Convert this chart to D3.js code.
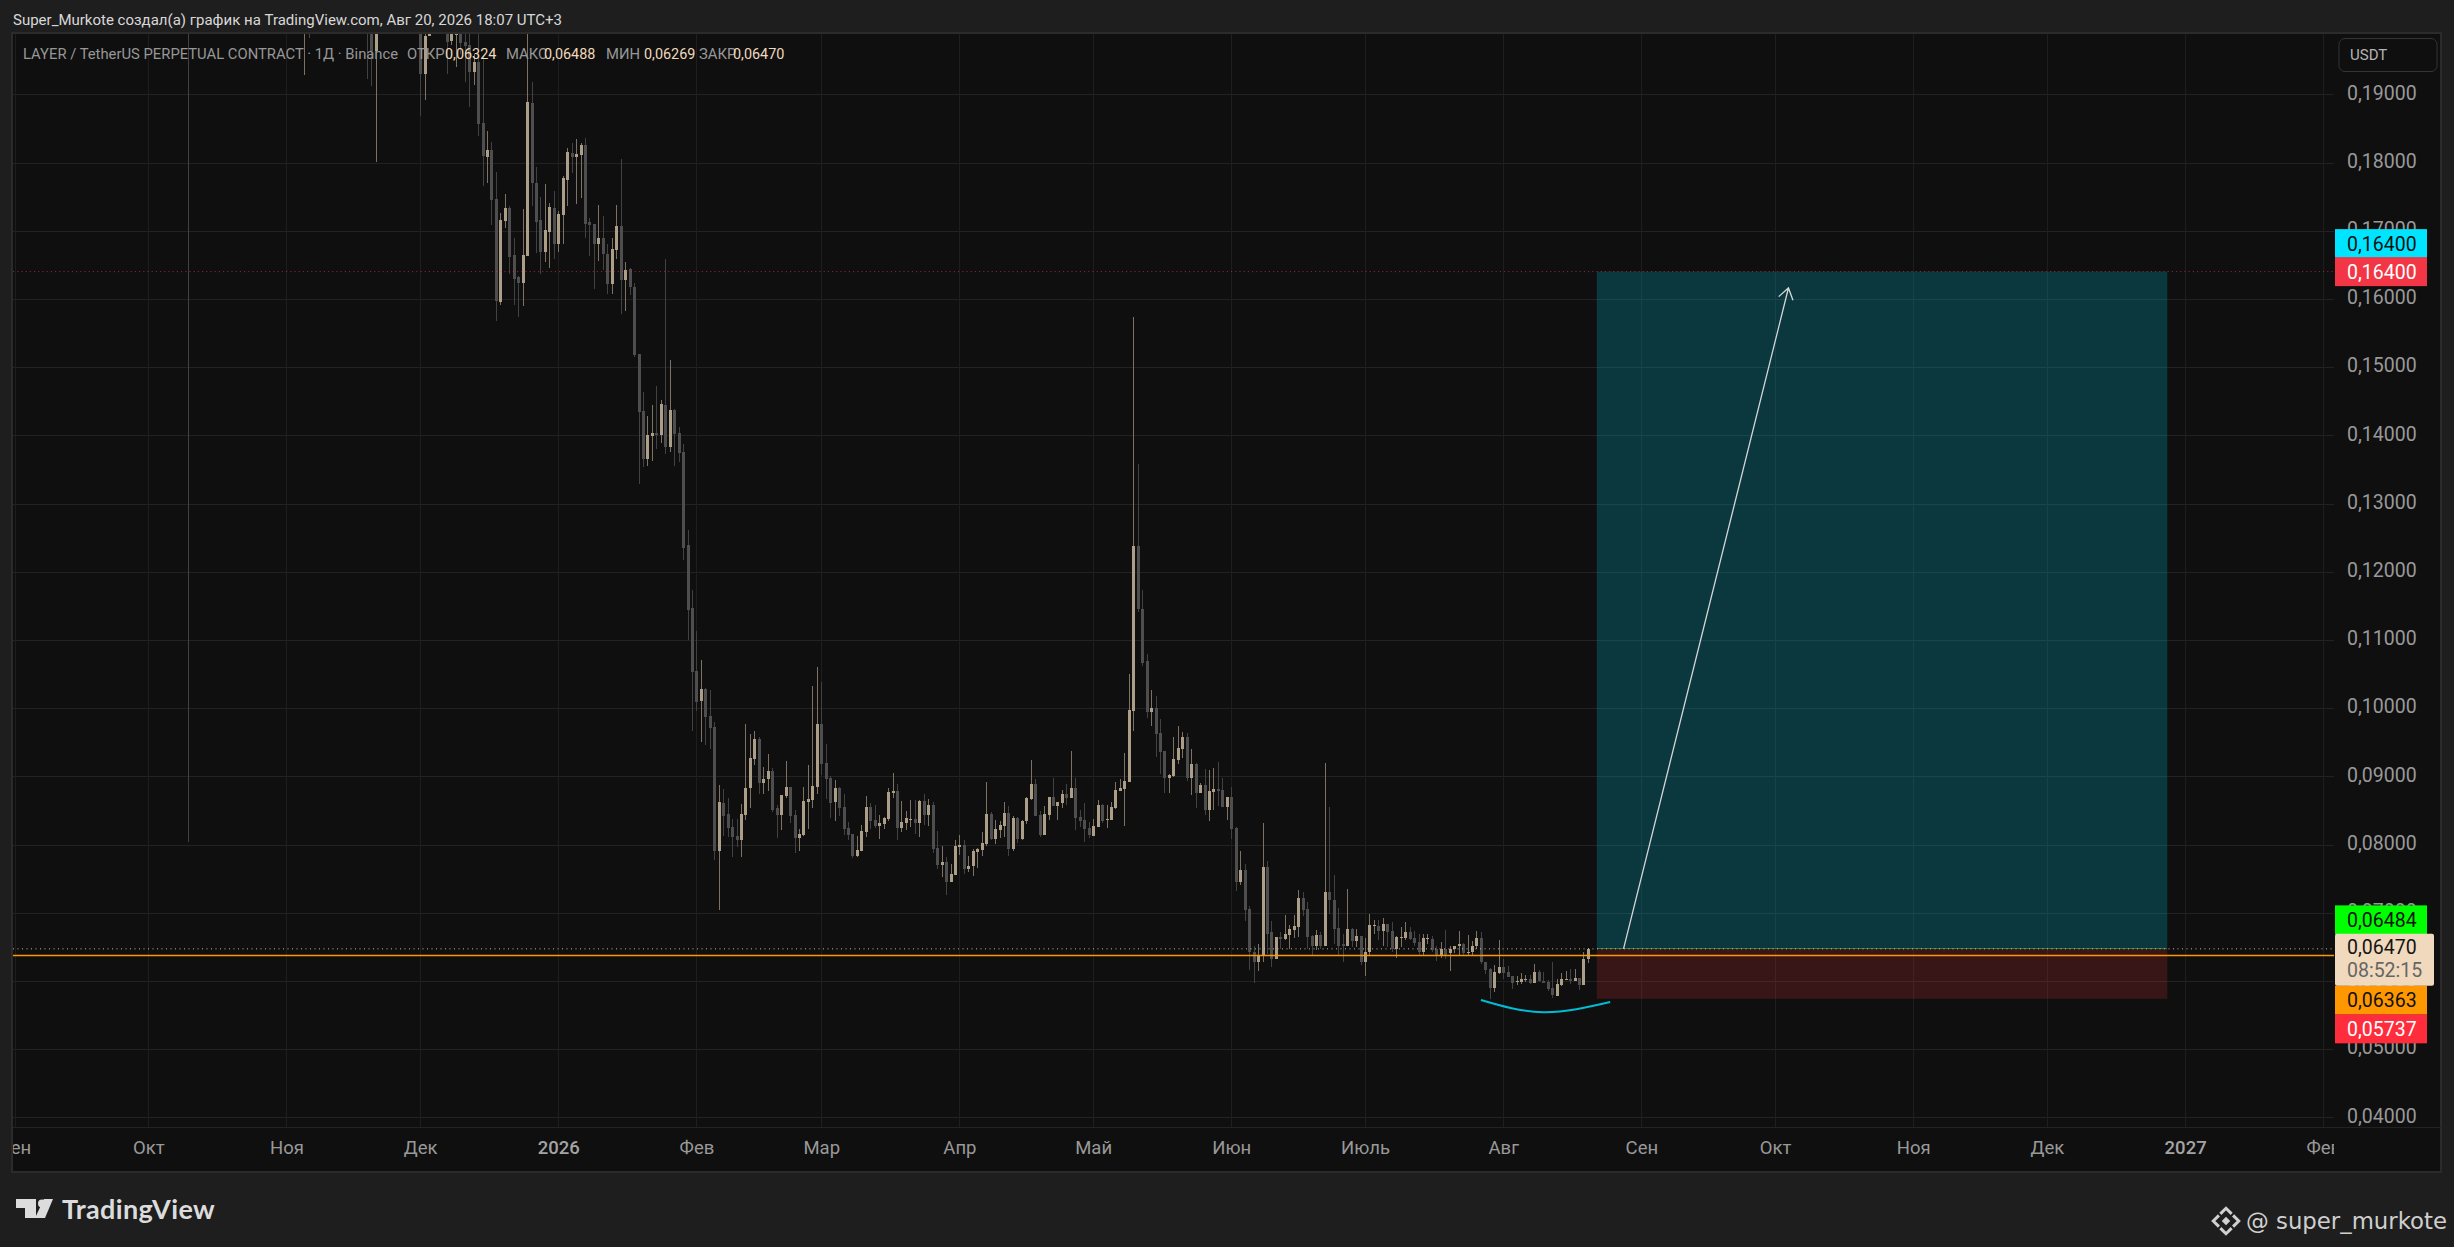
<!DOCTYPE html>
<html>
<head>
<meta charset="utf-8">
<script src="https://cdn.jsdelivr.net/npm/d3@7"></script>
<style>
  html, body { margin: 0; padding: 0; background: #1e1e1e; overflow: hidden; }
  text { font-family: Roboto, "Noto Sans", sans-serif; }
</style>
</head>
<body>
<div id="chart"></div>
<script>
// daily candles, LAYER / USDT perp
// (everything before december is above the visible range, only the wicks show)
var firstDay = "2025-10-10";

var opens = [
  .48,.33,.35,.39,.40,.37,.35,.33,.31,.32,.33,.34,.32,.30,.32,.31,.32,.34,.32,.30,.29,.27,
  .28,.285,.27,.235,.225,.25,.235,.26,.27,.28,.29,.265,.255,.245,.23,.24,.23,.22,.21,.205,.1963,.21,.22,.225,.235,.23,.235,.24,.23,.225,
  .21,.19298,.19856,.205,.212,.208,.2045,.19788,.19871,.201,.19768,.19724,.19327,.19474,.18577,.18078,.18181,.1746,.15961,.17137,.17328,.16637,.16314,.1624,.16622,.18871,.17695,.1715,.16695,.16974,.17327,
  .16798,.17224,.17738,.18135,.18076,.18106,.18253,.17121,.17092,.16798,.169,.16665,.16224,.16724,.17062,.16283,.16445,.1618,.15195,.14357,.13652,.1399,.14034,.14005,.14446,.13828,.14372,.14034,.13755,.1239,.11466,
  .10548,.10107,.10283,.09887,.09725,.07902,.08608,.08446,.08255,.08122,.08064,.08431,.08828,.09254,.09548,.08902,.0896,.09078,.08534,.08431,.0871,.08843,.08431,.08093,.08137,.08622,.08652,.08843,
  .09769,.09196,.08975,.08622,.08828,.08549,.0824,.08152,.07829,.07902,.08181,.08549,.08358,.0827,.08299,.08372,.08755,.08784,.0824,.08314,.08358,.08372,.08314,.08637,.08431,.08578,.07946,.07696,.0774,.07446,.07549,
  .07961,.0799,.07637,.07681,.07887,.07917,.08005,.08446,.08078,.08211,.0827,.08461,.07931,.08387,.08078,.08343,.08666,.08887,.08431,.08137,.08431,.08696,.08564,.08608,.0874,.08681,.08828,.08402,.08358,.0824,
  .08122,.08255,.08578,.08358,.08358,.08534,.08784,.08813,.08916,.0996,.12372,.1146,.10695,.09945,.10004,.09637,.09372,.08975,.09005,.0924,.09401,.09578,.08975,.09181,.08754,.08871,.08504,.08769,.08813,.08798,.08548,
  .08695,.08239,.07446,.07622,.07049,.06431,.06284,.06387,.07666,.06711,.06314,.06637,.06608,.06666,.0674,.06784,.0721,.07049,.06652,.06519,.06666,.06519,.07299,.07181,.06769,.06534,.06519,.06755,.06578,.06652,
  .0627,.06417,.06799,.06799,.06725,.06828,.06725,.06461,.06622,.06622,.06711,.06622,.06564,.06417,.06608,.06608,.0647,.06372,.06475,.06402,.06461,.06519,.06534,.06402,.06417,.06505,.06622,.06284,.06181,.05902,.06123,
  .06211,.06137,.06078,.0599,.0599,.0602,.06034,.05976,.06137,.06005,.0599,.05902,.05784,.05946,.0602,.06034,.06005,.06049,.05946,.06324
];
var highs = [
  .49,.37,.40,.42,.41,.39,.36,.34,.33,.34,.35,.36,.33,.33,.33,.33,.35,.35,.33,.31,.30,.29,
  .29,.29,.275,.25,.26,.26,.27,.28,.29,.30,.30,.28,.27,.25,.245,.25,.24,.23,.22,.215,.215,.225,.23,.24,.24,.24,.245,.245,.235,.23,
  .215,.2035,.209,.216,.218,.212,.208,.207,.205,.204,.2,.199,.19592,.2,.19562,.1846,.18298,.17857,.17254,.17534,.17357,.16887,.16343,.17313,.205,.1918,.17931,.17488,.1768,.174,.17577,
  .17283,.17797,.18209,.18282,.18341,.18282,.18356,.1718,.17092,.17371,.17209,.16798,.16886,.17371,.18047,.16548,.16459,.16239,.15195,.14637,.14284,.14446,.14725,.14519,.16592,.15107,.14387,.14122,.13872,.1261,.1173,
  .11136,.1071,.10298,.10269,.09798,.08872,.08813,.08681,.08372,.08372,.08593,.09769,.09622,.09666,.09578,.09137,.09328,.09122,.08578,.08725,.09225,.08843,.08505,.08225,.08843,.09166,.10328,.10607,
  .10386,.09475,.09005,.08946,.08843,.0874,.08328,.08152,.08122,.08284,.0871,.08608,.08578,.08431,.08402,.08828,.09049,.08887,.08637,.0849,.08652,.08652,.08652,.0874,.08666,.08622,.08196,.07976,.07814,.07711,.08064,
  .08137,.08064,.07829,.07931,.07946,.08181,.08916,.08475,.08358,.08343,.08622,.08564,.08417,.08402,.08358,.08696,.0924,.0896,.0849,.08564,.08696,.08975,.08622,.08799,.08887,.09372,.08975,.08505,.08608,.08328,
  .08372,.08652,.08593,.08578,.08622,.08916,.0896,.09343,.10504,.15738,.13577,.11725,.10798,.10269,.10181,.09842,.09372,.09034,.09578,.0974,.09651,.09637,.09401,.09196,.08896,.09107,.09092,.09121,.0921,.08974,.08695,
  .08842,.08254,.07901,.0771,.07093,.06519,.06534,.08313,.07754,.06872,.06647,.06711,.0696,.06813,.0696,.07338,.07299,.07152,.06666,.0674,.06711,.09195,.08548,.07548,.07063,.06681,.07343,.06769,.06755,.06652,
  .06622,.06975,.06887,.06887,.06916,.06838,.06857,.06652,.06784,.06857,.06784,.06725,.06681,.06691,.06681,.06652,.06519,.06564,.0674,.06505,.06519,.06725,.06554,.06666,.06588,.06725,.06711,.06284,.06191,.0624,.06593,
  .06328,.06225,.06078,.06078,.06123,.06093,.06088,.06255,.06167,.06137,.06015,.0627,.06034,.06123,.06152,.06181,.06181,.06049,.06431,.06488
];
var lows = [
  .0804,.31,.34,.37,.35,.34,.32,.29,.30,.31,.32,.31,.29,.29,.30,.30,.31,.31,.29,.28,.26,.26,
  .27,.26,.22,.205,.1929,.1982,.23,.25,.26,.27,.26,.25,.24,.225,.225,.225,.215,.205,.1923,.1912,.1801,.205,.21,.22,.225,.22,.23,.225,.22,.205,
  .18685,.1892,.19856,.2035,.205,.201,.19298,.19724,.194,.19592,.1918,.18813,.19136,.18386,.17651,.17695,.17078,.15682,.15917,.17034,.16358,.15917,.1574,.15902,.16622,.17357,.16666,.16371,.16548,.16459,.16592,
  .16695,.16812,.17356,.17841,.17386,.17474,.169,.16636,.16151,.16562,.1643,.16077,.16077,.16592,.15783,.15827,.16062,.15151,.13284,.13534,.13549,.13622,.13799,.13887,.13725,.13755,.13549,.13608,.1217,.10997,.09663,
  .0996,.09504,.0946,.09401,.0777,.07035,.08122,.08108,.07814,.07961,.07814,.08358,.08534,.09166,.0874,.0874,.08784,.08475,.08093,.08211,.08681,.08314,.07873,.07902,.08122,.08225,.08534,.0874,
  .09019,.08666,.08387,.08343,.08417,.08137,.08064,.07799,.07814,.07902,.08108,.08225,.0824,.08078,.08225,.08343,.08681,.08064,.08181,.08211,.0826,.08152,.08108,.08284,.0827,.07873,.07637,.0752,.07255,.07446,.07549,
  .07843,.07564,.07593,.07534,.07652,.07829,.07976,.08064,.08005,.08093,.08108,.07829,.07902,.0802,.08064,.08299,.08652,.08417,.08108,.08137,.08358,.08564,.08358,.08534,.08578,.08681,.08211,.08255,.08034,.08093,
  .08122,.08255,.08314,.0824,.08358,.08519,.08784,.0827,.08916,.09666,.11402,.10623,.09857,.0974,.09284,.09034,.08755,.08755,.0899,.09181,.09269,.08931,.08725,.08534,.08754,.0843,.08342,.08504,.08563,.08548,.08357,
  .08078,.07313,.07401,.06872,.06167,.05966,.06142,.06274,.06397,.06201,.06314,.06461,.06593,.06461,.06622,.06637,.06946,.06461,.06387,.06446,.0647,.06519,.06975,.06534,.06372,.0627,.06519,.0649,.0649,.0624,
  .06078,.06387,.06681,.06593,.06519,.0649,.06417,.06343,.06495,.06593,.06593,.06519,.06372,.06387,.06534,.06431,.06299,.06343,.06328,.06152,.06402,.06387,.06372,.06387,.06387,.06475,.06255,.06108,.0574,.05843,.06108,
  .06034,.06064,.05887,.05946,.05961,.0599,.05961,.05976,.0599,.05976,.05858,.05755,.05784,.05931,.0602,.05961,.06005,.05873,.05946,.06269
];
var closes = [
  .33,.35,.39,.40,.37,.35,.33,.31,.32,.33,.34,.32,.30,.32,.31,.32,.34,.32,.30,.29,.27,.28,
  .285,.27,.235,.225,.25,.235,.26,.27,.28,.29,.265,.255,.245,.23,.24,.23,.22,.21,.205,.1963,.21,.22,.225,.235,.23,.235,.24,.23,.225,.21,
  .19298,.19856,.205,.212,.208,.2045,.19768,.2035,.201,.19753,.19709,.19327,.19474,.18563,.18092,.18181,.17446,.15976,.17152,.17328,.16608,.16299,.1624,.16637,.18886,.17695,.17122,.16695,.17003,.17341,.16798,
  .17239,.17768,.1815,.18076,.18121,.18253,.17092,.17077,.16798,.169,.16665,.16224,.16739,.17062,.16283,.1643,.1618,.1518,.14343,.13652,.14005,.14034,.14005,.1446,.13828,.14372,.14019,.1374,.12345,.11436,.10527,
  .10092,.10283,.09872,.0971,.07902,.08622,.08417,.0824,.08108,.08064,.08446,.08828,.09269,.09548,.08902,.0896,.09078,.08505,.08431,.08725,.08843,.08417,.08093,.08152,.08637,.08666,.08858,.09769,
  .09181,.0896,.08608,.08828,.08534,.08225,.08137,.07829,.07917,.08196,.08549,.08343,.0827,.08314,.08387,.08769,.08784,.0824,.08328,.08387,.08372,.08314,.08637,.08431,.08578,.07931,.07696,.0774,.07446,.07564,.07976,
  .0799,.07637,.07681,.07902,.07931,.0802,.08446,.08078,.08225,.08284,.08461,.07931,.08387,.08078,.08343,.08681,.08887,.08417,.08137,.08446,.08696,.08564,.08622,.0874,.08681,.08828,.08387,.08343,.08225,.08137,
  .0827,.08578,.08343,.08372,.08549,.08799,.08828,.08931,.09975,.12372,.11446,.10667,.09945,.10004,.09622,.09357,.08975,.09019,.09254,.09416,.09578,.08975,.09181,.08755,.08871,.08504,.08783,.08813,.08788,.08548,.08695,
  .08225,.07446,.07622,.07039,.06421,.06284,.06387,.07666,.06681,.06314,.06637,.06608,.06681,.06755,.06799,.0721,.07034,.06637,.06519,.06666,.06519,.07299,.07181,.06755,.06519,.06519,.06755,.06578,.06652,.0627,
  .06431,.06813,.06813,.06725,.06828,.06711,.06461,.06637,.06637,.06711,.06608,.06549,.06417,.06622,.06622,.06446,.06372,.06475,.06387,.06475,.06519,.06534,.06402,.06431,.06519,.06622,.0627,.06167,.05902,.06137,.06211,
  .06123,.06064,.05976,.06005,.06034,.06034,.05976,.06137,.06005,.05976,.05887,.05799,.05961,.06034,.06034,.06005,.06049,.05946,.06328,.0647
];

var priceTicks = [.04,.05,.06,.07,.08,.09,.10,.11,.12,.13,.14,.15,.16,.17,.18,.19];
var monthDays = ["2025-09-01","2025-10-01","2025-11-01","2025-12-01","2026-01-01","2026-02-01","2026-03-01","2026-04-01","2026-05-01","2026-06-01","2026-07-01","2026-08-01","2026-09-01","2026-10-01","2026-11-01","2026-12-01","2027-01-01","2027-02-01"];
var monthNames = ["Сен","Окт","Ноя","Дек","2026","Фев","Мар","Апр","Май","Июн","Июль","Авг","Сен","Окт","Ноя","Дек","2027","Фев"];

// long position tool
var targetPrice = .164, entryPrice = .0647, stopPrice = .05737;
var boxDays = ["2026-08-22","2026-12-28"];
var arrowDays = ["2026-08-28","2026-10-04"], arrowPrices = [.0647,.1616];
var arcDays = ["2026-07-27","2026-08-10","2026-08-25"], arcPrices = [.0572,.0554,.0569];
var lastPrice = .0647, markPrice = .06363;

var legendLabels = ["ОТКР","МАКС","МИН","ЗАКР"];
var legendValues = ["0,06324","0,06488","0,06269","0,06470"];

var tagPrices = [.164,.164,.06484,.06363,.05737];
var tagFills = ["#00e5ff","#f23645","#00ff00","#ff9800","#ff2d3c"];
var tagInk = ["#111","#fff","#111","#111","#fff"];
var tagShift = [-28,0,-28,44,30];

var W = 2454, H = 1247;
var left = 13, top_ = 34, right = 2334, bottom = 1127, frameR = 2441, frameB = 1172;

var parseDay = d3.utcParse("%Y-%m-%d");

var x = d3.scaleUtc()
  .domain([parseDay("2025-09-01"), parseDay("2027-02-01")])
  .range([14.5, 2323.3]);
var y = d3.scaleLinear().domain([.04,.19]).range([1117.3, 94.3]);

var svg = d3.select("#chart").append("svg")
  .attr("width", W).attr("height", H).style("display","block");

var defs = svg.append("defs");
defs.append("clipPath").attr("id","pane").append("rect")
  .attr("x",left).attr("y",top_).attr("width",right-left).attr("height",bottom-top_);
defs.append("clipPath").attr("id","timeClip").append("rect")
  .attr("x",left).attr("y",bottom).attr("width",right-left).attr("height",frameB-bottom);

svg.append("rect").attr("width",W).attr("height",H).attr("fill","#1e1e1e");
svg.append("rect")
  .attr("x",left-1).attr("y",top_-1).attr("width",frameR-left+1).attr("height",frameB-top_+1)
  .attr("fill","#0f0f0f").attr("stroke","#2b2b2b").attr("stroke-width",2);

// grid
var pane = svg.append("g").attr("clip-path","url(#pane)");
pane.selectAll("line.h").data(priceTicks).enter().append("line").attr("class","h")
  .attr("x1",left).attr("x2",right)
  .attr("y1",function(d){return Math.round(y(d))+.5;})
  .attr("y2",function(d){return Math.round(y(d))+.5;})
  .attr("stroke","#222").attr("shape-rendering","crispEdges");
pane.selectAll("line.v").data(monthDays).enter().append("line").attr("class","v")
  .attr("y1",top_).attr("y2",bottom)
  .attr("x1",function(d){return Math.round(x(parseDay(d)))+.5;})
  .attr("x2",function(d){return Math.round(x(parseDay(d)))+.5;})
  .attr("stroke","#1e1e1e").attr("shape-rendering","crispEdges");

// candles
var candles = opens.map(function(o,i){
  var day = d3.utcDay.offset(parseDay(firstDay), i);
  return {day:day, o:o, h:highs[i], l:lows[i], c:closes[i]};
});
var candle = pane.selectAll("g.candle").data(candles).enter().append("g")
  .attr("class","candle").attr("shape-rendering","crispEdges");
candle.append("line")
  .attr("x1",function(d){return Math.round(x(d.day))+.5;})
  .attr("x2",function(d){return Math.round(x(d.day))+.5;})
  .attr("y1",function(d){return y(d.h);})
  .attr("y2",function(d){return y(d.l);})
  .attr("stroke",function(d){return d.c>=d.o ? "#7d7263" : "#424242";});
candle.append("rect")
  .attr("x",function(d){return Math.round(x(d.day))-1;})
  .attr("width",3)
  .attr("y",function(d){return y(Math.max(d.o,d.c));})
  .attr("height",function(d){return Math.max(1,Math.abs(y(d.o)-y(d.c)));})
  .attr("fill",function(d){return d.c>=d.o ? "#ad9e88" : "#4e4e4e";});

// position boxes
var bx0 = x(parseDay(boxDays[0])), bx1 = x(parseDay(boxDays[1]));
pane.append("rect").attr("x",bx0).attr("width",bx1-bx0)
  .attr("y",y(targetPrice)).attr("height",y(entryPrice)-y(targetPrice))
  .attr("fill","#00bcd4").attr("fill-opacity",.24);
pane.append("rect").attr("x",bx0).attr("width",bx1-bx0)
  .attr("y",y(entryPrice)).attr("height",y(stopPrice)-y(entryPrice))
  .attr("fill","#f23645").attr("fill-opacity",.18);
pane.append("line").attr("x1",bx0).attr("x2",bx1)
  .attr("y1",y(entryPrice)).attr("y2",y(entryPrice))
  .attr("stroke","#2e7d32").attr("shape-rendering","crispEdges");

// price lines
pane.append("line").attr("x1",left).attr("x2",right)
  .attr("y1",y(targetPrice)).attr("y2",y(targetPrice))
  .attr("stroke","#f23645").attr("stroke-opacity",.6).attr("stroke-dasharray","1.2 3");
pane.append("line").attr("x1",left).attr("x2",right)
  .attr("y1",y(lastPrice)).attr("y2",y(lastPrice))
  .attr("stroke","#e8d5b5").attr("stroke-opacity",.85).attr("stroke-dasharray","1 3.5");
pane.append("line").attr("x1",left).attr("x2",right)
  .attr("y1",Math.floor(y(markPrice))-.5).attr("y2",Math.floor(y(markPrice))-.5)
  .attr("stroke","#ff9800").attr("stroke-width",1.6);

// arrow
var ax0 = x(parseDay(arrowDays[0])), ax1 = x(parseDay(arrowDays[1]));
var ay0 = y(arrowPrices[0]), ay1 = y(arrowPrices[1]);
var ang = Math.atan2(ay1-ay0, ax1-ax0), headLen = 13;
pane.append("path")
  .attr("d","M"+ax0+","+ay0+"L"+ax1+","+ay1+
    "M"+(ax1-headLen*Math.cos(ang-.6))+","+(ay1-headLen*Math.sin(ang-.6))+
    "L"+ax1+","+ay1+
    "L"+(ax1-headLen*Math.cos(ang+.6))+","+(ay1-headLen*Math.sin(ang+.6)))
  .attr("fill","none").attr("stroke","#d6d6d6").attr("stroke-width",1.3);

// arc under the lows
var arcLine = d3.line()
  .x(function(d){return x(parseDay(d));})
  .y(function(d,i){return y(arcPrices[i]);})
  .curve(d3.curveNatural);
pane.append("path").attr("d",arcLine(arcDays))
  .attr("fill","none").attr("stroke","#00bcd4").attr("stroke-width",2);

// price axis
var yAxis = d3.axisRight(y).tickValues(priceTicks).tickSize(0).tickPadding(0)
  .tickFormat(function(d){return d3.format(".5f")(d).replace(".",",");});
var gy = svg.append("g").attr("transform","translate(2347,-1.5)").call(yAxis);
gy.select(".domain").remove();
gy.selectAll("text").attr("fill","#999").style("font-size","19.5px").style("font-family","Roboto");

// time axis
svg.append("line").attr("x1",left).attr("x2",frameR).attr("y1",bottom+.5).attr("y2",bottom+.5)
  .attr("stroke","#222").attr("shape-rendering","crispEdges");
var xAxis = d3.axisBottom(x).tickValues(monthDays.map(parseDay)).tickSize(0).tickPadding(0)
  .tickFormat(function(d,i){return monthNames[i];});
var gx = svg.append("g").attr("clip-path","url(#timeClip)").append("g")
  .attr("transform","translate(0,1141)").call(xAxis);
gx.select(".domain").remove();
gx.selectAll("text").attr("fill","#999").style("font-size","18.5px").style("font-family","Roboto");
gx.selectAll("text").filter(function(d,i){return monthNames[i].length==4 && monthNames[i]!="Июль";})
  .style("font-weight","500").attr("fill","#a4a4a4");

// USDT button
svg.append("rect").attr("x",2339).attr("y",38.5).attr("width",98).attr("height",33).attr("rx",6)
  .attr("fill","none").attr("stroke","#343434");
svg.append("text").attr("x",2350).attr("y",60).attr("fill","#b4b4b4").style("font-size","15px").text("USDT");

// price tags
var tags = svg.append("g");
tagPrices.forEach(function(p,i){
  var cy = y(p)+tagShift[i];
  tags.append("rect").attr("x",2335).attr("width",92).attr("y",cy-14.5).attr("height",29).attr("fill",tagFills[i]);
  tags.append("text").attr("x",2347).attr("y",cy).attr("dy",".36em").attr("fill",tagInk[i])
    .style("font-size","19.5px").text(d3.format(".5f")(p).replace(".",","));
});
var lastY = y(lastPrice);
tags.append("rect").attr("x",2335).attr("width",99).attr("y",lastY-15).attr("height",52).attr("rx",2).attr("fill","#f0d9bc");
tags.append("text").attr("x",2347).attr("y",lastY-2).attr("dy",".36em").attr("fill","#141414")
  .style("font-size","19.5px").text(d3.format(".5f")(lastPrice).replace(".",","));
tags.append("text").attr("x",2347).attr("y",lastY+21).attr("dy",".36em").attr("fill","#666")
  .style("font-size","19.5px").text("08:52:15");

// header + legend
svg.append("text").attr("x",13).attr("y",25).attr("fill","#d8d8d8").style("font-size","15px")
  .text("Super_Murkote создал(а) график на TradingView.com, Авг 20, 2026 18:07 UTC+3");
svg.append("text").attr("x",23).attr("y",59).attr("fill","#979797").style("font-size","14.8px")
  .text("LAYER / TetherUS PERPETUAL CONTRACT · 1Д · Binance");
var legendX = [407,506,606,699], valueX = [445,544,644,733];
legendLabels.forEach(function(l,i){
  svg.append("text").attr("x",legendX[i]).attr("y",59).attr("fill","#979797").style("font-size","14.8px").text(l);
  svg.append("text").attr("x",valueX[i]).attr("y",59).attr("fill","#f0d9bc").style("font-size","14.4px").text(legendValues[i]);
});

// footer
var logo = svg.append("g").attr("fill","#dcdcdc");
logo.append("path").attr("d","M16,1199H36V1218H25V1208H16Z");
logo.append("circle").attr("cx",42).attr("cy",1203.5).attr("r",4);
logo.append("path").attr("d","M44,1199H53L45,1218H35Z");
svg.append("text").attr("x",62).attr("y",1219).attr("fill","#dcdcdc")
  .style("font-size","27px").style("font-family","Lato").style("font-weight","700").style("letter-spacing",".35px")
  .text("TradingView");
var mark = svg.append("g").attr("fill","#d0d0d0").attr("transform","translate(2226,1221) rotate(45)");
mark.append("rect").attr("x",-3).attr("y",-3).attr("width",6).attr("height",6);
mark.append("path").attr("fill","none").attr("stroke","#d0d0d0").attr("stroke-width",3)
  .attr("d","M-9,-1V-9H-1M1,9H9V1");
mark.append("path").attr("fill","none").attr("stroke","#d0d0d0").attr("stroke-width",3)
  .attr("d","M1,-9H9V-1M-9,1V9H-1");
svg.append("text").attr("x",2246).attr("y",1229).attr("fill","#cfcfcf")
  .style("font-size","22.8px").style("font-family","'DejaVu Sans'")
  .text("@ super_murkote");
</script>
</body>
</html>
